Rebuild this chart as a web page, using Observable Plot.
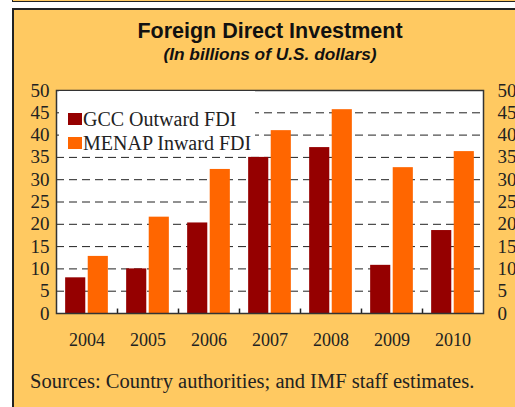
<!DOCTYPE html>
<html>
<head>
<meta charset="utf-8">
<script src="https://cdn.jsdelivr.net/npm/d3@7"></script>
<script src="https://cdn.jsdelivr.net/npm/@observablehq/plot@0.6"></script>
<style>
  html, body { margin: 0; padding: 0; background: #ffffff; }
  #page { position: relative; width: 515px; height: 407px; overflow: hidden; background: #ffffff; }
  #strip { position: absolute; left: 12px; top: -12px; width: 540px; height: 12px; background: #FFC961; border: 1.5px solid #222; }
  #box { position: absolute; left: 12px; top: 8px; width: 540px; height: 420px; background: #FFC961; border: 2px solid #222; box-sizing: border-box; }
  #title { position: absolute; left: 13px; width: 514px; top: 20px; text-align: center; font-family: "Liberation Sans", Arial, sans-serif; font-weight: bold; font-size: 21.5px; line-height: 22px; color: #111; }
  #subtitle { position: absolute; left: 13px; width: 514px; top: 45px; text-align: center; font-family: "Liberation Sans", Arial, sans-serif; font-weight: bold; font-style: italic; font-size: 17.3px; line-height: 18px; color: #111; }
  #chart { position: absolute; left: 0; top: 80px; }
  #legend { position: absolute; left: 59px; top: 91px; width: 196px; height: 64px; background: #ffffff; font-family: "Liberation Serif", "Times New Roman", serif; font-size: 20px; color: #222; }
  .item { position: absolute; left: 9px; display: flex; align-items: center; height: 24px; }
  .sw { width: 14px; height: 12px; margin-right: 1px; }
  #caption { position: absolute; left: 30px; top: 370px; font-family: "Liberation Serif", "Times New Roman", serif; font-size: 20.5px; color: #222; white-space: nowrap; }
</style>
</head>
<body>
<div id="page">
  <div id="strip"></div>
  <div id="box"></div>
  <div id="title">Foreign Direct Investment</div>
  <div id="subtitle">(In billions of U.S. dollars)</div>
  <div id="chart"></div>
  <div id="legend"></div>
  <div id="caption">Sources: Country authorities; and IMF staff estimates.</div>
</div>
<script>
const years = ["2004", "2005", "2006", "2007", "2008", "2009", "2010"];
const seriesNames = ["GCC Outward FDI", "MENAP Inward FDI"];
const gccOutward = [8, 10, 20.3, 35, 37.2, 10.8, 18.6];
const menapInward = [12.8, 21.6, 32.3, 41, 45.7, 32.7, 36.3];
const yTicks = [0, 5, 10, 15, 20, 25, 30, 35, 40, 45, 50];
const gridTicks = [5, 10, 15, 20, 25, 30, 35, 40, 45];
const colors = ["#950000", "#FF6600"];

const data = [];
years.forEach((yr, i) => {
  data.push({year: yr, series: seriesNames[0], value: gccOutward[i]});
  data.push({year: yr, series: seriesNames[1], value: menapInward[i]});
});

const W = 515, H = 270;
const mL = 56, mR = 32, mT = 10, mB = 37;
const band = (W - mL - mR) / years.length;
const font = "Liberation Serif, Times New Roman, serif";

const chart = Plot.plot({
  width: W,
  height: H,
  marginLeft: mL,
  marginRight: mR,
  marginTop: mT,
  marginBottom: mB,
  style: {background: "transparent", fontFamily: font, fontSize: "18px", color: "#222"},
  x: {domain: years, padding: 0, label: null},
  y: {domain: [0, 50], label: null},
  color: {domain: seriesNames, range: colors},
  marks: [
    Plot.frame({fill: "white", stroke: null}),
    Plot.ruleY(gridTicks, {stroke: "#222", strokeWidth: 1, strokeDasharray: "8,5"}),
    Plot.barY(data.filter(d => d.series === seriesNames[0]), {x: "year", y: "value", fill: "series", insetLeft: band * 0.15, insetRight: band * 0.52}),
    Plot.barY(data.filter(d => d.series === seriesNames[1]), {x: "year", y: "value", fill: "series", insetLeft: band * 0.52, insetRight: band * 0.15}),
    Plot.ruleX(years.slice(1), {x: d => d, y1: 0, y2: 1, dx: -band / 2, stroke: "#222", strokeWidth: 1.5}),
    Plot.axisX({tickSize: 0, tickPadding: 20, fontSize: 18, fontFamily: font, label: null}),
    Plot.axisY({anchor: "left", ticks: yTicks, tickSize: 0, tickPadding: 7, fontSize: 19, fontFamily: font, label: null}),
    Plot.axisY({anchor: "right", ticks: yTicks, tickSize: 0, tickPadding: 14, fontSize: 19, fontFamily: font, label: null}),
    Plot.frame({stroke: "#333", strokeWidth: 1.5})
  ]
});
document.getElementById("chart").appendChild(chart);

const legend = document.getElementById("legend");
seriesNames.forEach((name, i) => {
  const row = document.createElement("div");
  row.className = "item";
  row.style.top = (16 + i * 24) + "px";
  const sw = document.createElement("span");
  sw.className = "sw";
  sw.style.background = colors[i];
  const label = document.createElement("span");
  label.textContent = name;
  row.appendChild(sw);
  row.appendChild(label);
  legend.appendChild(row);
});
</script>
</body>
</html>
